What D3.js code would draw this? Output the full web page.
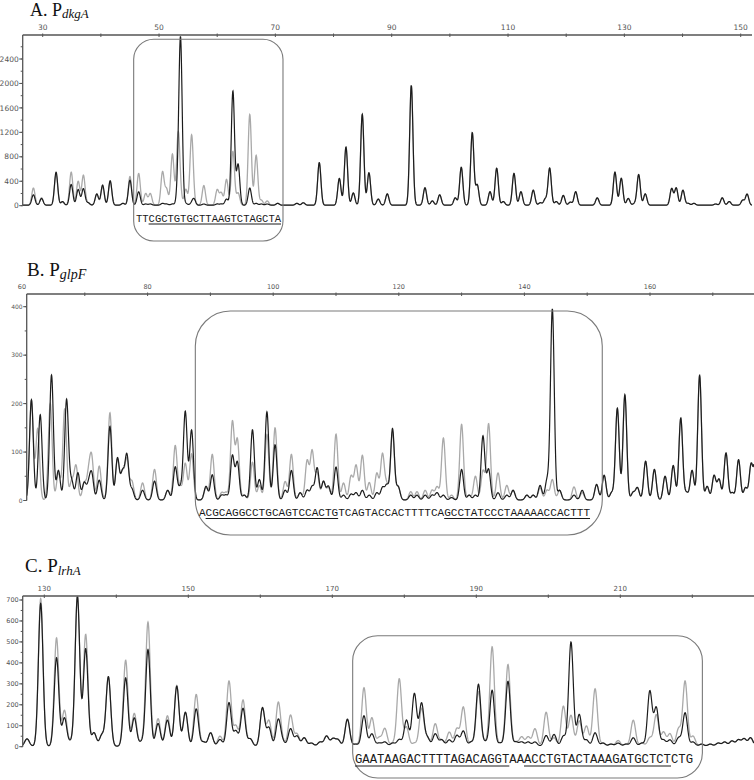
<!DOCTYPE html>
<html><head><meta charset="utf-8">
<script src="https://cdn.jsdelivr.net/npm/d3@7"></script>
<style>body{margin:0;background:#fff}svg{display:block}</style>
</head><body><svg id="c" width="754" height="780"></svg>
<script>
// ---------- Panel A: P dkgA ----------
const posA   = [28.4,29.8,32.3,33.4,34.9,36.1,37.0,37.8,39.3,40.3,41.6,43.8,45.0,46.5,47.7,48.5,50.6,51.3,52.3,53.3,53.7,54.6,55.6,56.0,57.7,60.0,60.7,61.6,62.7,63.6,65.6,66.7,67.6,68.6,70.4,73.7,74.8,77.55,81.0,82.14,83.4,84.94,86.09,87.69,89.24,93.37,95.72,96.98,98.25,100.93,101.96,103.85,104.71,106.9,108.05,109.18,111.02,112.22,114.34,115.54,116.4,117.16,118.29,119.5,120.7,121.63,125.34,128.38,129.47,130.67,131.77,132.46,133.59,138.13,138.92,140.07,140.98,141.96,145.69,146.83,148.03,150.34,151.1];
const blackA = [170,110,540,60,340,255,270,40,185,330,400,30,410,220,20,20,30,20,20,300,2650,30,30,100,20,20,20,100,1865,665,280,30,20,20,30,30,40,695,437,950,200,1485,530,100,185,1958,285,70,170,120,620,1185,330,220,605,60,520,220,245,40,100,605,60,160,50,220,120,540,440,110,30,500,185,270,280,245,30,30,20,120,60,80,180];
const grayA  = [280,120,500,50,540,390,490,40,175,300,380,30,470,520,190,190,540,257,835,1170,100,260,1140,30,320,250,200,420,880,200,1485,815,80,70,30,30,40,695,437,950,200,1485,530,100,185,1958,285,70,170,120,620,1185,330,220,605,60,520,220,245,40,100,605,60,160,50,220,120,540,440,110,30,500,185,270,280,245,30,30,20,120,60,80,180];
const xLabelsA = [30,50,70,90,110,130,150];
const yLabelsA = [0,400,800,1200,1600,2000,2400];
const boxA = [45.64,71.31];
const seqA = "TTCGCTGTGCTTAAGTCTAGCTA";
const seqSpanA = [46.04,70.97];
const underA = [[2,23]];

// ---------- Panel B: P glpF ----------
const posB   = [61.5,62.5,62.9,64.5,64.7,65.8,66.8,67.1,67.9,68.6,68.9,69.9,70.6,71.1,72.3,74.0,75.2,76.0,76.7,77.5,79.2,81.1,83.2,84.4,85.2,86.0,87.0,89.3,90.3,91.8,92.5,93.5,94.3,95.4,96.7,97.8,99.0,100.3,101.9,102.9,104.3,105.4,106.2,107.0,108.0,108.8,110.0,111.2,112.4,113.2,114.2,115.3,116.5,117.4,118.1,119.0,119.9,121.9,122.9,124.2,125.3,126.1,127.1,128.4,130.0,131.2,132.2,133.4,134.3,135.8,137.2,138.2,140.4,141.4,142.5,143.6,144.45,145.6,147.9,149.2,151.5,152.7,153.9,154.8,156.0,157.3,158.0,159.3,160.7,162.4,163.7,164.9,165.8,166.7,167.9,169.1,170.2,171.0,172.1,173.1,174.1,175.2,176.1,176.9];
const blackB = [207,0,176,0,258,61,0,207,39,0,56,35,28,52,41,152,86,55,92,22,20,39,20,68,25,182,144,28,52,10,10,91,77,10,145,42,182,114,20,61,15,20,27,66,38,28,68,10,12,15,20,10,15,25,30,147,27,10,10,10,10,15,10,5,63,10,10,132,63,15,10,20,10,10,30,40,394,20,10,20,32,51,15,189,217,15,25,80,63,49,71,169,15,61,257,28,50,42,97,15,83,25,73,100];
const grayB  = [205,147,0,199,0,55,188,0,38,70,0,34,49,83,70,180,83,55,83,38,35,63,20,112,25,75,95,25,94,15,15,160,123,10,78,30,135,149,38,94,15,80,100,55,38,25,136,35,49,71,92,36,55,94,30,140,27,17,17,20,20,27,128,10,156,10,49,60,157,56,30,20,10,10,25,20,42,20,27,15,32,51,15,189,217,15,25,80,63,49,71,169,15,61,257,28,50,42,97,15,83,25,73,100];
const xLabelsB = [60,80,100,120,140,160];
const yLabelsB = [0,100,200,300,400];
const boxB = [87.6,152.4];
const seqB = "ACGCAGGCCTGCAGTCCACTGTCAGTACCACTTTTCAGCCTATCCCTAAAAACCACTTT";
const seqSpanB = [88.18,150.45];
const underB = [[1,21],[37,59]];

// ---------- Panel C: P lrhA ----------
const posC   = [127.6,129.5,131.7,132.8,133.7,134.6,135.75,136.9,138.0,138.9,141.3,142.5,143.5,144.4,145.8,147.1,148.4,149.6,151.1,152.1,153.1,154.4,155.65,156.6,157.6,158.6,160.3,161.2,162.5,163.1,164.2,165.1,166.1,167.1,168.3,169.2,170.1,170.8,172.1,173.25,174.4,175.5,176.5,177.3,178.4,179.3,180.3,181.4,182.4,183.2,184.3,185.2,186.25,187.3,188.2,189.3,190.3,191.25,192.2,193.3,194.4,195.5,196.3,197.2,198.15,199.7,200.8,202.1,203.15,204.3,205.3,206.5,207.6,208.7,209.7,210.8,211.8,213.0,214.1,215.0,216.0,216.9,218.1,219.0,220.1,221.3,222.5,223.6,224.5,225.5,226.4,227.2,228.1];
const blackC = [35,681,422,135,20,715,465,64,53,331,326,135,20,461,108,124,286,162,178,20,64,32,207,72,180,35,183,88,127,20,83,48,40,15,20,48,35,30,128,10,145,59,15,20,15,32,124,251,204,40,59,30,30,51,72,20,295,20,267,15,310,20,20,20,20,51,56,48,497,151,30,64,15,10,15,10,40,15,262,183,30,30,40,159,20,10,10,15,20,25,30,35,40];
const grayC  = [35,705,517,170,20,715,533,64,53,331,410,156,20,592,131,145,290,160,247,20,64,48,310,96,220,35,180,121,207,20,148,58,40,15,20,48,35,30,130,10,279,135,40,84,15,321,90,15,180,40,107,30,67,83,186,20,260,20,474,15,390,20,44,44,83,162,40,191,147,120,96,274,15,10,27,10,124,15,40,150,67,59,83,310,48,10,10,15,20,25,30,35,40];
const xLabelsC = [130,150,170,190,210];
const yLabelsC = [0,100,200,300,400,500,600,700];
const boxC = [172.83,221.4];
const seqC = "GAATAAGACTTTTAGACAGGTAAACCTGTACTAAAGATGCTCTCTG";
const seqSpanC = [173.15,220.1];
const underC = [[0,21],[23,43]];

// ---------- layout ----------
const panels = [
  {id:"A", letter:"A. P", sub:"dkgA", tx:30, ty:16, tsize:18, ssize:13, sdy:2,
   pos:posA, black:blackA, gray:grayA, xl:xLabelsA, yl:yLabelsA,
   xDom:[30,150], xRng:[42.7,740.7], yDom:[0,2400], yRng:[205.7,59],
   left:22.7, right:752, axisY:35, xMinorStep:10, yMinorStep:200, sigma:0.28,
   xFont:7.5, yFont:7.5, box:boxA, boxTop:39.3, boxBot:241, boxR:20,
   seq:seqA, seqSpan:seqSpanA, under:underA, seqY:221.5, seqSize:11, ulY:224},
  {id:"B", letter:"B. P", sub:"glpF", tx:27, ty:276, tsize:19, ssize:14, sdy:3,
   pos:posB, black:blackB, gray:grayB, xl:xLabelsB, yl:yLabelsB,
   xDom:[60,160], xRng:[22,650], yDom:[0,400], yRng:[500.5,306.7],
   left:26.7, right:754, axisY:294, xMinorStep:10, yMinorStep:50, sigma:0.3,
   xFont:6.5, yFont:6, box:boxB, boxTop:311, boxBot:535, boxR:35,
   seq:seqB, seqSpan:seqSpanB, under:underB, seqY:516, seqSize:11, ulY:518.5},
  {id:"C", letter:"C. P", sub:"lrhA", tx:25, ty:572, tsize:19, ssize:13, sdy:3,
   pos:posC, black:blackC, gray:grayC, xl:xLabelsC, yl:yLabelsC,
   xDom:[130,210], xRng:[44.3,620.3], yDom:[0,700], yRng:[746.7,600],
   left:22.7, right:754, axisY:596, xMinorStep:10, yMinorStep:50, sigma:0.32,
   xFont:7, yFont:6.5, box:boxC, boxTop:635.7, boxBot:778, boxR:25,
   seq:seqC, seqSpan:seqSpanC, under:underC, seqY:762.5, seqSize:12, ulY:766}
];

const svg = d3.select("#c");
const axisCol = "#555", labCol = "#555";

panels.forEach(p => {
  const g = svg.append("g");
  const x = d3.scaleLinear().domain(p.xDom).range(p.xRng);
  const y = d3.scaleLinear().domain(p.yDom).range(p.yRng);
  const y0 = y(0);

  // title
  const t = g.append("text").attr("x", p.tx).attr("y", p.ty)
    .attr("font-family","'Liberation Serif','Times New Roman',serif")
    .attr("font-size", p.tsize).attr("fill","#111");
  t.append("tspan").text(p.letter);
  t.append("tspan").attr("font-style","italic").attr("font-size", p.ssize)
    .attr("dy", p.sdy).text(p.sub);

  // traces
  const xStart = x.invert(p.left), xEnd = x.invert(p.right);
  const samples = d3.range(xStart, xEnd, 0.03);
  const peaks = p.pos.map((v,i)=>({v, b:p.black[i], g:p.gray[i]}));
  const s2 = 2*p.sigma*p.sigma;
  const trace = key => samples.map(xx => {
    let s = 0;
    for (const pk of peaks) { const d = xx-pk.v; if (Math.abs(d) < 2.5) s += pk[key]*Math.exp(-d*d/s2); }
    return [xx, s];
  });
  const clipId = "clip"+p.id;
  svg.append("clipPath").attr("id", clipId).append("rect")
    .attr("x", p.left).attr("y", p.axisY+0.5).attr("width", p.right-p.left).attr("height", y0 - p.axisY + 4);
  const line = d3.line().x(d=>x(d[0])).y(d=>y(d[1])-0.5);
  g.append("path").attr("d", line(trace("g"))).attr("fill","none")
    .attr("stroke","#a9a9a9").attr("stroke-width",1.3).attr("clip-path",`url(#${clipId})`);
  g.append("path").attr("d", line(trace("b"))).attr("fill","none")
    .attr("stroke","#1c1c1c").attr("stroke-width",1.2).attr("clip-path",`url(#${clipId})`);

  // x axis (top)
  g.append("line").attr("x1", p.left).attr("x2", p.right).attr("y1", p.axisY).attr("y2", p.axisY)
    .attr("stroke", axisCol).attr("stroke-width", 1.3);
  const minorX = d3.range(Math.ceil(xStart/p.xMinorStep)*p.xMinorStep, xEnd, p.xMinorStep);
  g.selectAll(null).data(minorX).join("line")
    .attr("x1", d=>x(d)).attr("x2", d=>x(d)).attr("y1", p.axisY-1.5).attr("y2", p.axisY+2)
    .attr("stroke", axisCol).attr("stroke-width", 1);
  g.selectAll(null).data(p.xl).join("text")
    .attr("x", d=>x(d)).attr("y", p.axisY-5).attr("text-anchor","middle")
    .attr("font-family","'DejaVu Sans',sans-serif").attr("font-size", p.xFont)
    .attr("fill", labCol).text(d=>d);

  // y axis (left)
  g.append("line").attr("x1", p.left).attr("x2", p.left).attr("y1", p.axisY).attr("y2", y0)
    .attr("stroke", axisCol).attr("stroke-width", 1.3);
  const minorY = d3.range(0, y.invert(p.axisY), p.yMinorStep);
  g.selectAll(null).data(minorY).join("line")
    .attr("x1", p.left-2).attr("x2", p.left).attr("y1", d=>y(d)).attr("y2", d=>y(d))
    .attr("stroke", axisCol).attr("stroke-width", 1);
  g.selectAll(null).data(p.yl).join("line")
    .attr("x1", p.left-3.5).attr("x2", p.left).attr("y1", d=>y(d)).attr("y2", d=>y(d))
    .attr("stroke", axisCol).attr("stroke-width", 1);
  g.selectAll(null).data(p.yl).join("text")
    .attr("x", p.left-4).attr("y", d=>y(d)).attr("dy","0.35em").attr("text-anchor","end")
    .attr("font-family","'DejaVu Sans',sans-serif").attr("font-size", p.yFont)
    .attr("fill", labCol).text(d=>d);

  // highlight box
  g.append("rect").attr("x", x(p.box[0])).attr("y", p.boxTop)
    .attr("width", x(p.box[1])-x(p.box[0])).attr("height", p.boxBot-p.boxTop)
    .attr("rx", p.boxR).attr("ry", p.boxR)
    .attr("fill","none").attr("stroke","#7a7a7a").attr("stroke-width",1.1);

  // sequence
  const sx0 = x(p.seqSpan[0]), sx1 = x(p.seqSpan[1]);
  const cw = (sx1-sx0)/p.seq.length;
  g.append("text").attr("x", sx0).attr("y", p.seqY)
    .attr("textLength", sx1-sx0).attr("lengthAdjust","spacingAndGlyphs")
    .attr("font-family","'Liberation Mono','Courier New',monospace")
    .attr("font-size", p.seqSize).attr("fill","#1a1a1a").text(p.seq);
  g.selectAll(null).data(p.under).join("line")
    .attr("x1", d=>sx0+d[0]*cw).attr("x2", d=>sx0+d[1]*cw)
    .attr("y1", p.ulY).attr("y2", p.ulY).attr("stroke","#1a1a1a").attr("stroke-width",1);
});
</script></body></html>
